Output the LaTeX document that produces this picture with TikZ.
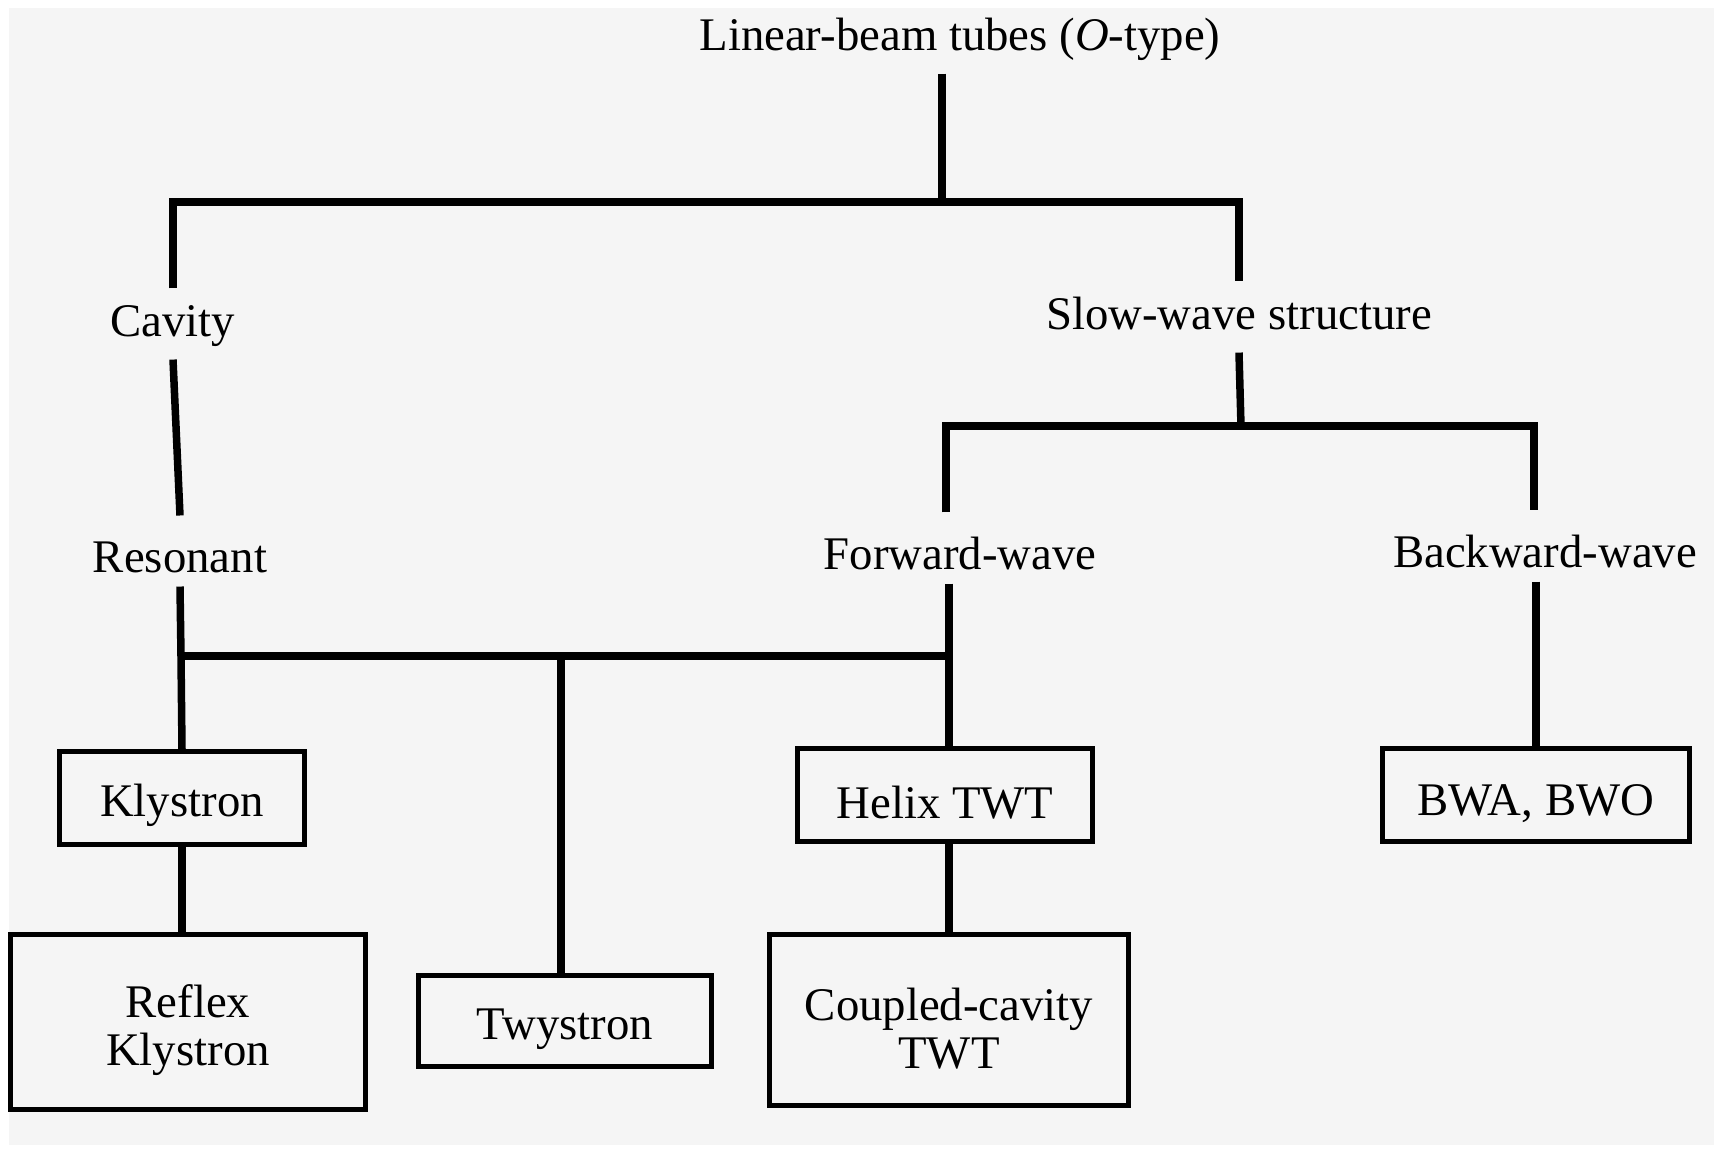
\documentclass[tikz,border=0pt]{standalone}
\usepackage{fontspec}
\setmainfont{Liberation Serif}
\usetikzlibrary{calc}
\definecolor{paper}{RGB}{245,245,245}

\begin{document}
\begin{tikzpicture}[x=0.01cm,y=-0.01cm,
  lbl/.style={inner xsep=0pt,inner ysep=0.12cm,text height=10pt,text depth=3pt,font=\fontsize{13.3}{16}\selectfont},
  lowlbl/.style={lbl,text height=14pt,text depth=2pt,inner ysep=1.9pt},
  tubebox/.style={draw,line width=0.05cm,align=center,inner sep=0pt,text height=13.5pt,font=\fontsize{13.3}{13.6}\selectfont},
  twolinebox/.style={tubebox,text height=27.5pt},
  branch/.style={line width=0.075cm}]
\fill[white] (0,0) rectangle (1714,1154);
\fill[paper] (9,8) rectangle (1714,1145);

\node[lbl] (title) at (960,38) {Linear-beam tubes (\textit{O}-type)};
\node[lbl] (cav) at (173,324) {Cavity};
\node[lbl] (slow) at (1239,317) {Slow-wave structure};
\node[lowlbl] (res) at (180,551) {Resonant};
\node[lowlbl] (fwd) at (960,548) {Forward-wave};
\node[lowlbl] (bwd) at (1545,546) {Backward-wave};

\node[tubebox,minimum width=2.45cm,minimum height=0.93cm] (kly) at (182,798) {Klystron};
\node[twolinebox,minimum width=3.54cm,minimum height=1.75cm] (rkl) at (188,1022) {Reflex\\Klystron};
\node[tubebox,minimum width=2.93cm,minimum height=0.90cm] (twy) at (565,1021) {Twystron};
\node[tubebox,minimum width=2.95cm,minimum height=0.93cm] (hel) at (945,795) {Helix TWT};
\node[twolinebox,minimum width=3.59cm,minimum height=1.71cm] (cct) at (949,1020) {Coupled-cavity\\TWT};
\node[tubebox,minimum width=3.07cm,minimum height=0.92cm] (bwa) at (1536,795) {BWA, BWO};

\coordinate (j1) at (942,202);
\coordinate (j2) at (1241,426);
\coordinate (fl) at (946,426);
\coordinate (bl) at (1534,426);
\coordinate (k3) at (181,656);
\coordinate (t3) at (561,656);
\coordinate (h3) at (949,656);

\draw[branch] (title.south -| j1) -- (j1);
\draw[branch] (cav.north) |- (j1) -| (slow.north);
\draw[branch] (cav.south) -- (res.north);
\draw[branch] (slow.south) -- (j2);
\draw[branch] (fl |- fwd.north) -- (fl) -- (bl) -- (bl |- bwd.north);
\draw[branch] (res.south) -- (k3) -- (kly.north);
\draw[branch] (k3) -- (h3);
\draw[branch] (h3 |- fwd.south) -- (h3) -- (h3 |- hel.north);
\draw[branch] (t3) -- (t3 |- twy.north);
\draw[branch] (kly.south) -- (kly.south |- rkl.north);
\draw[branch] (h3 |- hel.south) -- (h3 |- cct.north);
\draw[branch] (bwa.north |- bwd.south) -- (bwa.north);
\end{tikzpicture}
\end{document}
